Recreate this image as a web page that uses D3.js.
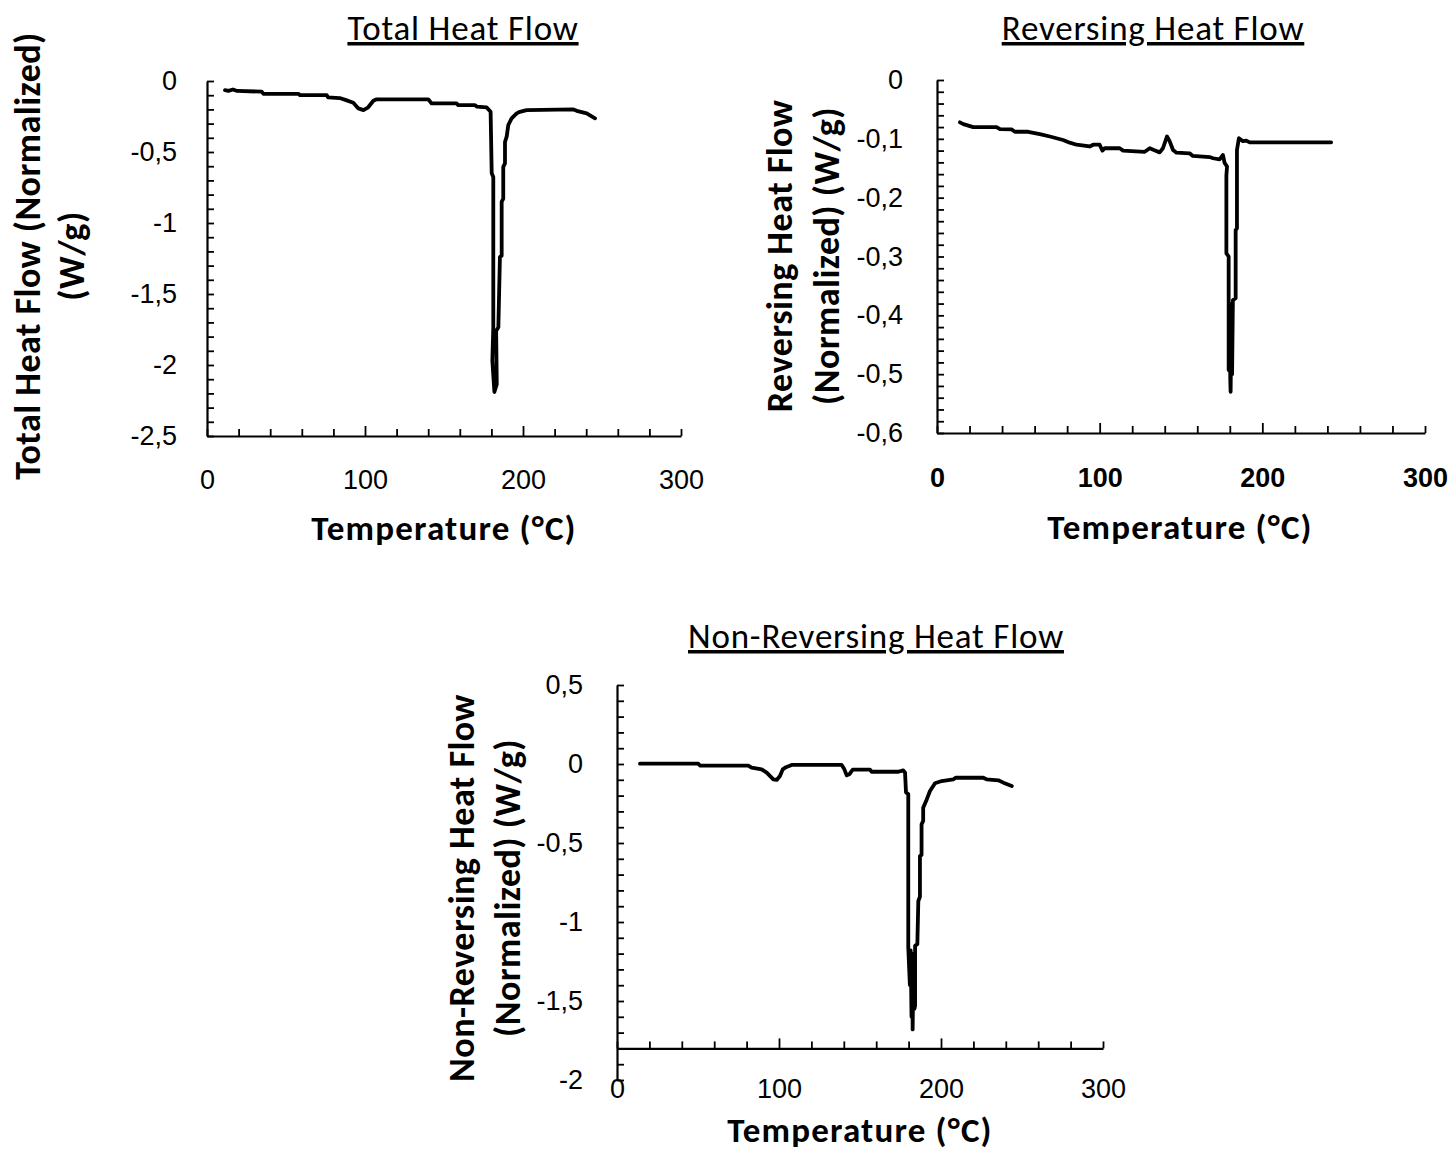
<!DOCTYPE html>
<html>
<head>
<meta charset="utf-8">
<script src="https://cdn.jsdelivr.net/npm/d3@7"></script>
<style>
  html, body { margin: 0; padding: 0; background: #fff; }
  svg { display: block; font-family: Carlito, Calibri, Lato, sans-serif; }
</style>
</head>
<body>
<svg id="fig" width="1452" height="1152"></svg>
<script>
// ---- Total heat flow (W/g) vs temperature (°C) ----
const totalTemp = [11.4, 13.5, 16.5, 19.0, 34.6, 35.7, 57.8, 58.9, 75.8, 76.6,
  84.0, 88.0, 92.6, 95.8, 99.0, 102.0, 105.3, 107.4, 140.0, 142.2,
  158.0, 159.0, 169.6, 170.7, 177.0, 179.5, 180.2, 181.2, 181.2, 180.6,
  181.9, 183.4, 183.0, 184.4, 185.4, 186.5, 186.5, 187.5, 187.5, 188.6,
  188.6, 189.7, 190.7, 192.8, 196.0, 198.0, 202.3, 231.9, 234.0, 240.3, 245.6];
const totalHF = [-0.065, -0.070, -0.060, -0.070, -0.075, -0.090, -0.090, -0.100, -0.100, -0.115,
  -0.120, -0.135, -0.153, -0.193, -0.205, -0.185, -0.139, -0.129, -0.129, -0.158,
  -0.158, -0.170, -0.170, -0.180, -0.186, -0.217, -0.650, -0.676, -1.735, -1.970,
  -2.190, -2.135, -1.760, -1.735, -1.240, -1.230, -0.850, -0.830, -0.605, -0.580,
  -0.430, -0.390, -0.310, -0.263, -0.228, -0.217, -0.205, -0.200, -0.210, -0.228, -0.263];

// ---- Reversing heat flow ----
const revTemp = [14.1, 16.2, 22.3, 36.6, 38.7, 45.8, 47.9, 56.1, 63.2, 69.4,
  77.5, 81.6, 85.8, 93.9, 96.0, 100.0, 101.7, 103.1, 112.3, 114.4,
  127.7, 130.8, 133.3, 136.9, 138.9, 141.4, 143.0, 145.1, 147.2, 155.3,
  157.3, 167.6, 169.7, 173.7, 175.8, 176.8, 178.3, 177.9, 177.9, 179.3,
  179.3, 179.9, 180.3, 180.5, 181.0, 181.4, 181.9, 183.6, 183.6, 184.4,
  184.4, 185.6, 188.1, 190.1, 192.2, 242.3];
const revHF = [-0.072, -0.075, -0.080, -0.080, -0.0835, -0.084, -0.088, -0.088, -0.092, -0.096,
  -0.102, -0.1065, -0.110, -0.113, -0.110, -0.110, -0.120, -0.116, -0.116, -0.120,
  -0.122, -0.116, -0.119, -0.123, -0.116, -0.096, -0.104, -0.119, -0.1235, -0.1246,
  -0.129, -0.131, -0.133, -0.135, -0.1275, -0.141, -0.147, -0.1625, -0.2946, -0.300,
  -0.493, -0.380, -0.510, -0.530, -0.400, -0.500, -0.374, -0.371, -0.255, -0.252,
  -0.119, -0.099, -0.104, -0.103, -0.106, -0.106];

// ---- Non-reversing heat flow ----
const nonRevTemp = [14.2, 50.2, 51.2, 81.0, 83.1, 89.3, 92.4, 96.5, 98.6, 100.6,
  102.3, 104.3, 107.8, 138.7, 140.1, 141.8, 143.4, 145.5, 156.2, 157.2,
  173.7, 176.7, 177.8, 178.4, 179.8, 179.8, 180.8, 181.3, 181.8, 182.2,
  182.5, 183.0, 183.6, 184.0, 184.0, 185.4, 186.0, 187.0, 187.0, 188.0,
  188.0, 189.0, 189.0, 191.2, 193.2, 196.3, 200.4, 207.6, 209.2, 226.1,
  228.1, 235.4, 238.5, 243.7];
const nonRevHF = [0.002, 0.002, -0.010, -0.010, -0.023, -0.034, -0.055, -0.097, -0.101, -0.076,
  -0.034, -0.020, -0.006, -0.006, -0.028, -0.072, -0.065, -0.036, -0.036, -0.049,
  -0.049, -0.040, -0.055, -0.180, -0.190, -1.163, -1.400, -1.180, -1.600, -1.200,
  -1.680, -1.250, -1.550, -1.530, -1.150, -1.140, -0.867, -0.840, -0.582, -0.575,
  -0.382, -0.360, -0.277, -0.224, -0.171, -0.122, -0.108, -0.097, -0.087, -0.087,
  -0.097, -0.103, -0.118, -0.139];

// ---- Axis tick labels ----
const tempTicks = [0, 100, 200, 300];
const totalYTicks = [0, -0.5, -1, -1.5, -2, -2.5];
const revYTicks = [0, -0.1, -0.2, -0.3, -0.4, -0.5, -0.6];
const nonRevYTicks = [0.5, 0, -0.5, -1, -1.5, -2];

const titles = ["Total Heat Flow", "Reversing Heat Flow", "Non-Reversing Heat Flow"];
const yLabels = [
  ["Total Heat Flow (Normalized)", "(W/g)"],
  ["Reversing Heat Flow", "(Normalized) (W/g)"],
  ["Non-Reversing Heat Flow", "(Normalized) (W/g)"]
];
const xLabel = "Temperature (°C)";

const locale = d3.formatLocale({ decimal: ",", thousands: ".", grouping: [3], minus: "-" });
const fmt = locale.format("~g");

const svg = d3.select("#fig");

const panels = [
  { temp: totalTemp, hf: totalHF, yTicks: totalYTicks, yDomain: [-2.5, 0], yMinorStep: 0.1,
    x0: 207, x1: 681, yTop: 81, yBottom: 436, crossAt: -2.5,
    yPad: 30, xPad: 34, xBold: false,
    title: titles[0], titleX: 463, titleY: 40,
    yLab: yLabels[0], yLabX: [40, 84], yLabY: 256,
    xLabX: 444, xLabY: 540 },
  { temp: revTemp, hf: revHF, yTicks: revYTicks, yDomain: [-0.6, 0], yMinorStep: 0.02,
    x0: 937, x1: 1425, yTop: 80, yBottom: 433, crossAt: -0.6,
    yPad: 34, xPad: 35, xBold: true,
    title: titles[1], titleX: 1153, titleY: 40,
    yLab: yLabels[1], yLabX: [792, 839], yLabY: 256,
    xLabX: 1180, xLabY: 539 },
  { temp: nonRevTemp, hf: nonRevHF, yTicks: nonRevYTicks, yDomain: [-2, 0.5], yMinorStep: 0.1,
    x0: 617, x1: 1103, yTop: 685, yBottom: 1080, crossAt: -1.8,
    yPad: 34, xPad: 30, xBold: false,
    title: titles[2], titleX: 876, titleY: 648,
    yLab: yLabels[2], yLabX: [474, 520], yLabY: 888,
    xLabX: 860, xLabY: 1142 }
];

function isIn(list, v) { return list.some(t => Math.abs(t - v) < 1e-9); }

panels.forEach(p => {
  const g = svg.append("g");
  const x = d3.scaleLinear().domain([0, 300]).range([p.x0, p.x1]);
  const y = d3.scaleLinear().domain(p.yDomain).range([p.yBottom, p.yTop]);
  const axisYPos = y(p.crossAt);

  // y axis: minor ticks every step, labels on the major values
  const nMinor = Math.round((p.yDomain[1] - p.yDomain[0]) / p.yMinorStep);
  const yMinor = d3.range(nMinor + 1).map(i => +(p.yDomain[0] + i * p.yMinorStep).toFixed(4));
  const yAxis = g.append("g")
    .attr("transform", `translate(${p.x0},0)`)
    .call(d3.axisLeft(y).tickValues(yMinor).tickSizeInner(-7).tickSizeOuter(0)
      .tickPadding(p.yPad).tickFormat(v => isIn(p.yTicks, v) ? fmt(v) : ""));
  yAxis.selectAll("text").attr("font-size", 27).attr("fill", "#000");

  // x axis: minor ticks every 20 °C, labels every 100 °C
  const xMinor = d3.range(0, 301, 20);
  const xAxis = g.append("g")
    .attr("transform", `translate(0,${axisYPos})`)
    .call(d3.axisBottom(x).tickValues(xMinor).tickSizeInner(-7).tickSizeOuter(0)
      .tickPadding(p.xPad).tickFormat(v => isIn(tempTicks, v) ? v : ""));
  xAxis.selectAll(".tick").filter(v => isIn(tempTicks, v) && v > 0 && v < 300)
    .select("line").attr("y2", -10);
  xAxis.selectAll("text").attr("font-size", 27).attr("fill", "#000")
    .attr("font-weight", p.xBold ? "bold" : "normal");

  [yAxis, xAxis].forEach(a => {
    a.select(".domain").attr("stroke", "#000").attr("stroke-width", 2.2);
    a.selectAll(".tick line").attr("stroke", "#000").attr("stroke-width", 1.8);
  });

  // heat flow trace
  const pts = p.temp.map((t, i) => [t, p.hf[i]]);
  g.append("path")
    .datum(pts)
    .attr("fill", "none")
    .attr("stroke", "#000")
    .attr("stroke-width", 3.8)
    .attr("stroke-linejoin", "round")
    .attr("stroke-linecap", "round")
    .attr("d", d3.line().x(d => x(d[0])).y(d => y(d[1])));

  // title
  g.append("text")
    .attr("x", p.titleX).attr("y", p.titleY)
    .attr("text-anchor", "middle")
    .attr("font-size", 35)
    .attr("letter-spacing", 0.8)
    .style("text-decoration", "underline")
    .text(p.title);

  // y-axis label, two lines
  p.yLab.forEach((line, i) => {
    g.append("text")
      .attr("transform", `translate(${p.yLabX[i]},${p.yLabY}) rotate(-90)`)
      .attr("text-anchor", "middle")
      .attr("font-size", 36)
      .attr("letter-spacing", 0.5)
      .attr("font-weight", "bold")
      .text(line);
  });

  // x-axis label
  g.append("text")
    .attr("x", p.xLabX).attr("y", p.xLabY)
    .attr("text-anchor", "middle")
    .attr("font-size", 35)
    .attr("letter-spacing", 1.2)
    .attr("font-weight", "bold")
    .text(xLabel);
});
</script>
</body>
</html>
